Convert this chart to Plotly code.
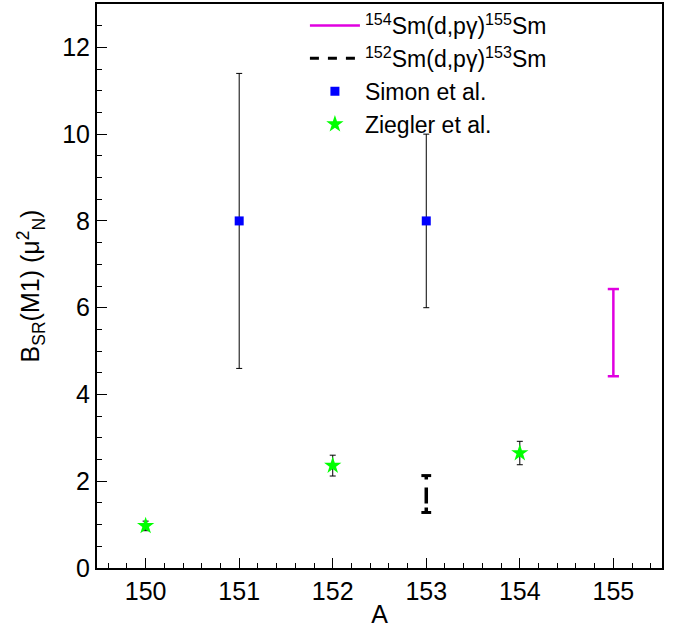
import plotly.graph_objects as go

# Mass numbers and B_SR(M1) values
simon_A = [151, 153]
simon_B = [8.0, 8.0]
simon_err = [3.4, 2.0]

ziegler_A = [150, 152, 154]
ziegler_B = [0.97, 2.36, 2.65]
ziegler_err = [0.11, 0.24, 0.27]

# (d,p gamma) ranges: low and high limits
sm155_A = [155, 155]
sm155_range = [4.42, 6.43]

sm153_A = [153, 153]
sm153_range = [1.28, 2.13]

x_ticks = [150, 151, 152, 153, 154, 155]
y_ticks = [0, 2, 4, 6, 8, 10, 12]

FONT = "Liberation Sans, Arial, Helvetica, sans-serif"

fig = go.Figure()

# 154Sm(d,p gamma)155Sm band
fig.add_trace(go.Scatter(
    x=sm155_A, y=sm155_range, mode="lines",
    line=dict(color="#e000e0", width=2.5),
    name="<sup>154</sup>Sm(d,pγ)<sup>155</sup>Sm",
    showlegend=True,
))
fig.add_trace(go.Scatter(
    x=sm155_A, y=sm155_range, mode="markers",
    marker=dict(symbol="line-ew", size=8, line=dict(color="#e000e0", width=2.5)),
    showlegend=False, hoverinfo="skip",
))

# 152Sm(d,p gamma)153Sm band (legend entry drawn separately)
fig.add_trace(go.Scatter(
    x=[None], y=[None], mode="lines",
    line=dict(color="black", width=3, dash="dash"),
    name="<sup>152</sup>Sm(d,pγ)<sup>153</sup>Sm",
))
fig.add_trace(go.Scatter(
    x=sm153_A, y=sm153_range, mode="lines",
    line=dict(color="black", width=3.5, dash="5px,4px,16px,8px"),
    showlegend=False, hoverinfo="skip",
))
fig.add_trace(go.Scatter(
    x=sm153_A, y=sm153_range, mode="markers",
    marker=dict(symbol="line-ew", size=7, line=dict(color="black", width=3)),
    showlegend=False, hoverinfo="skip",
))

# Simon et al.
fig.add_trace(go.Scatter(
    x=simon_A, y=simon_B, mode="markers",
    marker=dict(symbol="square", size=9, color="#0000ff"),
    error_y=dict(type="data", array=simon_err, color="black", thickness=1, width=3),
    name="Simon et al.",
))

# Ziegler et al.
fig.add_trace(go.Scatter(
    x=ziegler_A, y=ziegler_B, mode="markers",
    marker=dict(symbol="star", size=13, color="#00ff00"),
    error_y=dict(type="data", array=ziegler_err, color="black", thickness=1, width=3),
    name="Ziegler et al.",
))

axis_common = dict(
    showline=True, linecolor="black", linewidth=2, mirror=True,
    ticks="inside", tickcolor="black", ticklen=10, tickwidth=1,
    showgrid=False, zeroline=False, automargin=False,
    tickfont=dict(family=FONT, size=25, color="black"),
)

fig.update_layout(
    width=681, height=628,
    margin=dict(l=97, r=19, t=4, b=60),
    paper_bgcolor="white", plot_bgcolor="white",
    font=dict(family=FONT, color="black"),
    xaxis=dict(
        range=[149.48, 155.52], tickvals=x_ticks,
        minor=dict(dtick=0.2, ticks="inside", ticklen=5, tickcolor="black", tickwidth=1),
        title=dict(text="A", font=dict(family=FONT, size=25)),
        **axis_common,
    ),
    yaxis=dict(
        range=[0, 13], tickvals=y_ticks,
        minor=dict(dtick=0.5, ticks="inside", ticklen=5, tickcolor="black", tickwidth=1),
        title=dict(text="B<sub>SR</sub>(M1) (μ<sup>2</sup><sub>N</sub>)",
                   font=dict(family=FONT, size=25)),
        **axis_common,
    ),
    legend=dict(
        x=0.368, y=1.0, xanchor="left", yanchor="top",
        bgcolor="rgba(255,255,255,0)", borderwidth=0,
        font=dict(family=FONT, size=23, color="black"),
        itemwidth=50, tracegroupgap=0,
    ),
)

fig.write_html("out.html")
